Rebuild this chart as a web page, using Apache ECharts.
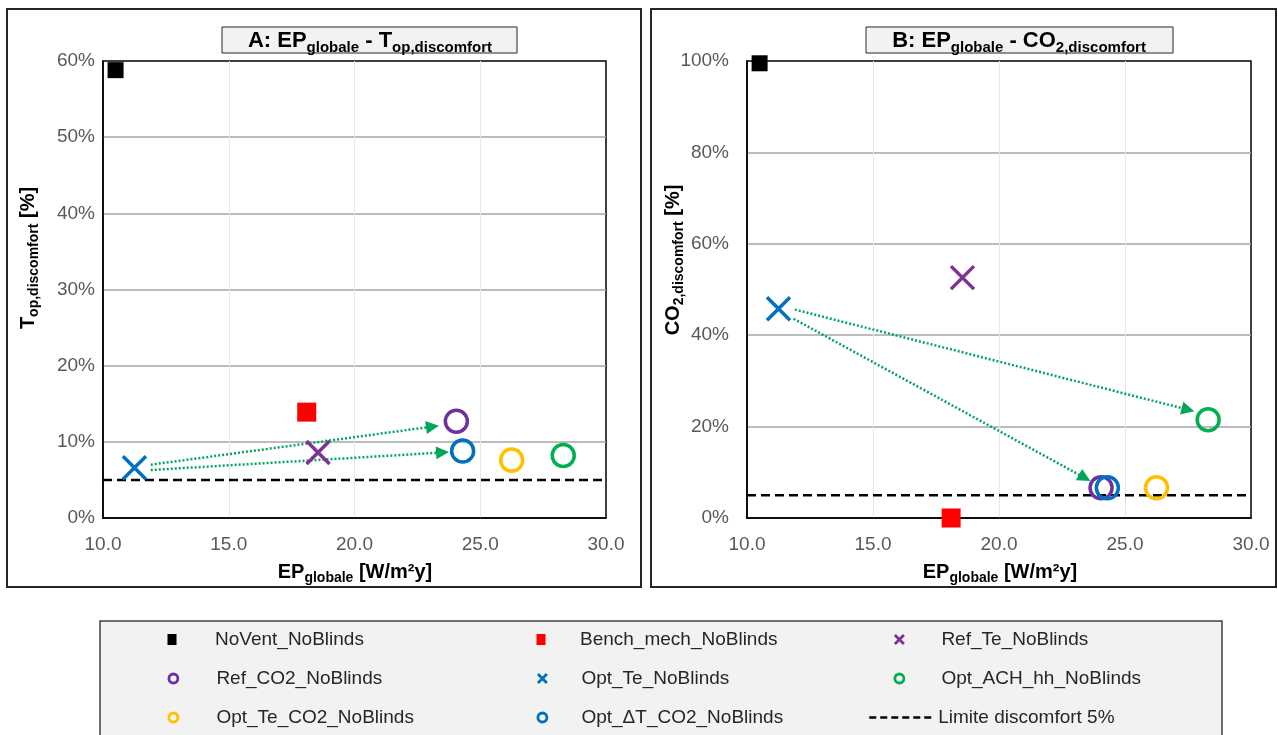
<!DOCTYPE html>
<html>
<head>
<meta charset="utf-8">
<script src="https://cdn.jsdelivr.net/npm/echarts@6/dist/echarts.min.js"></script>
<style>
html,body{margin:0;padding:0;background:#fff;}
#chart{width:1278px;height:735px;}
</style>
</head>
<body>
<div id="chart"></div>
<script>
// ---------------- data ----------------
const seriesNames = ['NoVent_NoBlinds','Bench_mech_NoBlinds','Ref_Te_NoBlinds','Ref_CO2_NoBlinds','Opt_Te_NoBlinds','Opt_ACH_hh_NoBlinds','Opt_Te_CO2_NoBlinds','Opt_\u0394T_CO2_NoBlinds'];
const epGlobale     = [10.5, 18.1, 18.55, 24.05, 11.25, 28.3, 26.25, 24.3];   // W/m2y
const topDiscomfort = [58.8, 13.9, 8.6, 12.7, 6.6, 8.2, 7.6, 8.8];            // %
const co2Discomfort = [99.5, 0.0, 52.6, 6.6, 45.8, 21.5, 6.6, 6.6];           // %
const limitName = 'Limite discomfort 5%';
const limitValue = 5;
const xRange = [10, 30];
const xTickStep = 5;
const yRangeA = [0, 60], yStepA = 10;
const yRangeB = [0, 100], yStepB = 20;
// arrows (start -> end) in data units
const arrowsA = [[[11.9, 7.0], [23.1, 12.0]], [[11.9, 6.3], [23.5, 8.6]]];
const arrowsB = [[[11.9, 45.6], [27.5, 23.7]], [[11.85, 43.6], [23.4, 8.8]]];

// ---------------- styles ----------------
const FONT = 'Liberation Sans';
const XPATH = 'path://M0,0L10,10M10,0L0,10';
const markerStyles = [
  {symbol:'rect',   size:16, color:'#000000', filled:true},
  {symbol:'rect',   size:19, color:'#ff0000', filled:true},
  {symbol:XPATH,    size:23, color:'#7f3195', filled:false},
  {symbol:'circle', size:22, color:'#7030a0', filled:false},
  {symbol:XPATH,    size:23, color:'#0070c0', filled:false},
  {symbol:'circle', size:22, color:'#00b050', filled:false},
  {symbol:'circle', size:22, color:'#ffc000', filled:false},
  {symbol:'circle', size:22, color:'#0070c0', filled:false}
];

function scatterSeries(values, gi) {
  return seriesNames.map((name, i) => {
    const m = markerStyles[i];
    return {
      name: name, type: 'scatter', xAxisIndex: gi, yAxisIndex: gi,
      symbol: m.symbol, symbolSize: m.size,
      itemStyle: m.filled ? {color: m.color, opacity: 1} : {color: 'transparent', borderColor: m.color, borderWidth: 3.5, opacity: 1},
      emphasis: {disabled: true},
      data: [[epGlobale[i], values[i]]],
      z: 5
    };
  });
}
function limitSeries(gi) {
  return {
    name: limitName, type: 'line', xAxisIndex: gi, yAxisIndex: gi,
    symbol: 'none', lineStyle: {color: '#000', width: 2.5, type: [9, 5]},
    itemStyle: {color: '#000'},
    data: [[xRange[0], limitValue], [xRange[1], limitValue]], z: 3
  };
}
function arrowSeries(arrs, gi) {
  return {
    type: 'lines', coordinateSystem: 'cartesian2d', xAxisIndex: gi, yAxisIndex: gi,
    symbol: ['none', 'triangle'], symbolSize: 13,
    lineStyle: {color: '#00a65a', width: 2.5, type: [2, 2], opacity: 1},
    data: arrs.map(a => ({coords: a})), z: 4
  };
}
function xAxis(gi) {
  return {
    gridIndex: gi, type: 'value', min: xRange[0], max: xRange[1], interval: xTickStep,
    axisLine: {show: true, lineStyle: {color: '#000', width: 1.5}},
    axisTick: {show: false},
    axisLabel: {margin: 17, color: '#595959', fontSize: 19, fontFamily: FONT, formatter: v => v.toFixed(1)},
    splitLine: {show: true, showMinLine: false, showMaxLine: false, lineStyle: {color: '#e6e6e6', width: 1}}
  };
}
function yAxis(gi, range, step, margin) {
  return {
    gridIndex: gi, type: 'value', min: range[0], max: range[1], interval: step,
    axisLine: {show: true, lineStyle: {color: '#000', width: 1.5}},
    axisTick: {show: false},
    axisLabel: {margin: margin, color: '#595959', fontSize: 19, fontFamily: FONT, formatter: '{value}%'},
    splitLine: {show: true, showMinLine: false, showMaxLine: false, lineStyle: {color: '#a6a6a6', width: 1.5}}
  };
}

// legend
const legendOrder = [0, 1, 2, 3, 4, 5, 6, 7, 8];
const colMarkerX = [172, 541, 898];
const colTextX = [215, 580, 940];
const rowY = [641, 680, 719];
const legends = legendOrder.map((k, idx) => {
  const col = idx % 3, row = Math.floor(idx / 3);
  if (k === 8) {
    return {
      data: [{name: limitName, itemStyle: {opacity: 0, color: 'transparent', borderWidth: 0}, lineStyle: {color: '#000', width: 2.5, type: [7, 4], opacity: 1}}],
      left: 868, top: rowY[row] - 11, itemWidth: 64, itemHeight: 10, padding: 0, selectedMode: false,
      textStyle: {fontSize: 19, color: '#262626', fontFamily: FONT}
    };
  }
  const m = markerStyles[k];
  const item = {name: seriesNames[k]};
  if (m.symbol === 'rect') { item.icon = 'rect'; item.itemStyle = {color: m.color, borderWidth: 0, opacity: 1}; }
  else if (m.symbol === 'circle') { item.icon = 'circle'; item.itemStyle = {color: 'transparent', borderColor: m.color, borderWidth: 2.8, opacity: 1}; }
  else { item.icon = XPATH; item.itemStyle = {color: 'transparent', borderColor: m.color, borderWidth: 2.8, opacity: 1}; }
  const w = 9;
  const h = m.symbol === 'rect' ? 11 : 9;
  return {
    data: [item], left: colMarkerX[col] - w / 2, top: rowY[row] - 11, itemWidth: w, itemHeight: h, padding: 0,
    selectedMode: false,
    textStyle: {fontSize: 19, color: '#262626', fontFamily: FONT, padding: [0, 0, 0, colTextX[col] - (colMarkerX[col] + w / 2) - 5]}
  };
});

// rich text helpers
const nameRich = {
  b: {fontSize: 20, fontWeight: 'bold', fontFamily: FONT, fill: '#000'},
  s: {fontSize: 14, fontWeight: 'bold', fontFamily: FONT, fill: '#000', padding: [12, 0, 0, 0]}
};
const titleRich = {
  b: {fontSize: 22, fontWeight: 'bold', fontFamily: FONT, fill: '#000'},
  s: {fontSize: 15, fontWeight: 'bold', fontFamily: FONT, fill: '#000', padding: [13, 0, 0, 0]}
};
function richText(text, x, y, rich, rot) {
  return {type: 'text', x: x, y: y, rotation: rot || 0, z: 20,
    style: {text: text, rich: rich, align: 'center', verticalAlign: 'middle', fill: '#000'}};
}

const chart = echarts.init(document.getElementById('chart'), null, {renderer: 'canvas'});
chart.setOption({
  animation: false,
  backgroundColor: '#fff',
  grid: [
    {left: 103, top: 61, width: 503, height: 457, show: true, borderColor: '#000', borderWidth: 1.5, backgroundColor: 'transparent'},
    {left: 747, top: 61, width: 504, height: 457, show: true, borderColor: '#000', borderWidth: 1.5, backgroundColor: 'transparent'}
  ],
  xAxis: [xAxis(0), xAxis(1)],
  yAxis: [yAxis(0, yRangeA, yStepA, 8), yAxis(1, yRangeB, yStepB, 18)],
  legend: legends,
  graphic: [
    {type: 'rect', z: -10, shape: {x: 7, y: 9, width: 634, height: 578}, style: {fill: 'none', stroke: '#262626', lineWidth: 2}},
    {type: 'rect', z: -10, shape: {x: 651, y: 9, width: 625, height: 578}, style: {fill: 'none', stroke: '#262626', lineWidth: 2}},
    {type: 'rect', z: -10, shape: {x: 100, y: 621, width: 1122, height: 130}, style: {fill: '#f2f2f2', stroke: '#404040', lineWidth: 1.5}},
    {type: 'rect', z: 15, shape: {x: 222, y: 27, width: 295, height: 26}, style: {fill: '#f2f2f2', stroke: '#262626', lineWidth: 1}},
    {type: 'rect', z: 15, shape: {x: 866, y: 27, width: 307, height: 26}, style: {fill: '#f2f2f2', stroke: '#262626', lineWidth: 1}},
    richText('{b|A: EP}{s|globale}{b| - T}{s|op,discomfort}', 370, 41, titleRich),
    richText('{b|B: EP}{s|globale}{b| - CO}{s|2,discomfort}', 1019, 41, titleRich),
    richText('{b|EP}{s|globale}{b| [W/m\u00b2y]}', 355, 572, nameRich),
    richText('{b|EP}{s|globale}{b| [W/m\u00b2y]}', 1000, 572, nameRich),
    richText('{b|T}{s|op,discomfort}{b| [%]}', 28, 258, nameRich, Math.PI / 2),
    richText('{b|CO}{s|2,discomfort}{b| [%]}', 673, 260, nameRich, Math.PI / 2)
  ],
  series: [].concat(
    [limitSeries(0), arrowSeries(arrowsA, 0)], scatterSeries(topDiscomfort, 0),
    [limitSeries(1), arrowSeries(arrowsB, 1)], scatterSeries(co2Discomfort, 1)
  )
});
</script>
</body>
</html>
